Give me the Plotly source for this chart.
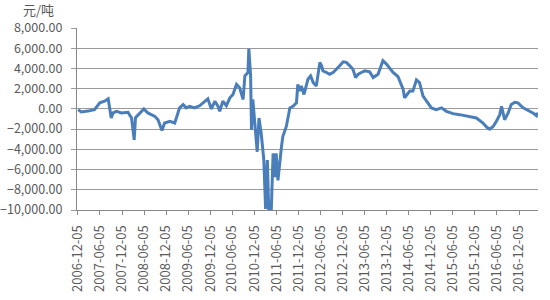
import pandas as pd
import plotly.graph_objects as go

# time in decimal years, value in 元/吨
years = [2006.93, 2007.00, 2007.15, 2007.30, 2007.42, 2007.53, 2007.61, 2007.63, 2007.68, 2007.72,
         2007.80, 2007.91, 2008.06, 2008.14, 2008.20, 2008.23, 2008.30, 2008.36, 2008.42, 2008.51,
         2008.67, 2008.74, 2008.83, 2008.89, 2009.01, 2009.12, 2009.23, 2009.31, 2009.38, 2009.46,
         2009.57, 2009.69, 2009.80, 2009.87, 2009.95, 2010.03, 2010.10, 2010.14, 2010.21, 2010.29,
         2010.37, 2010.44, 2010.52, 2010.59, 2010.67, 2010.71, 2010.78, 2010.80, 2010.84, 2010.86,
         2010.89, 2010.93, 2010.99, 2011.03, 2011.08, 2011.14, 2011.18, 2011.22, 2011.25, 2011.31,
         2011.35, 2011.39, 2011.42, 2011.46, 2011.50, 2011.54, 2011.57, 2011.65, 2011.73, 2011.80,
         2011.88, 2011.91, 2011.95, 2011.99, 2012.05, 2012.14, 2012.20, 2012.26, 2012.33, 2012.38,
         2012.41, 2012.45, 2012.48, 2012.56, 2012.63, 2012.71, 2012.79, 2012.86, 2012.94, 2013.01,
         2013.09, 2013.16, 2013.22, 2013.28, 2013.35, 2013.43, 2013.54, 2013.62, 2013.73, 2013.84,
         2013.92, 2014.07, 2014.18, 2014.30, 2014.33, 2014.45, 2014.52, 2014.60, 2014.67, 2014.75,
         2014.83, 2014.94, 2015.05, 2015.17, 2015.28, 2015.43, 2015.58, 2015.81, 2015.96, 2016.11,
         2016.19, 2016.26, 2016.34, 2016.41, 2016.49, 2016.53, 2016.56, 2016.60, 2016.68, 2016.75,
         2016.83, 2016.90, 2017.02, 2017.13, 2017.24, 2017.32, 2017.34]

values = [-70, -300, -220, -70, 600, 760, 1000, 430, -900, -400,
          -240, -400, -340, -900, -3070, -870, -570, -240, 0, -400,
          -740, -1070, -2140, -1400, -1240, -1400, 100, 430, 100, 260,
          100, 330, 760, 1000, 0, 760, 260, -240, 760, 330,
          1100, 1430, 2430, 2100, 930, 3260, 3600, 5930, 3260, -2070,
          930, -1400, -4240, -900, -2400, -5070, -9900, -5070, -9900, -9870,
          -4400, -6740, -4400, -7070, -5070, -3740, -2740, -1740, 100, 260,
          600, 2430, 1760, 2260, 1430, 2930, 3260, 2600, 2260, 3930,
          4600, 4260, 3760, 3600, 3430, 3600, 3930, 4260, 4660, 4600,
          4260, 3930, 3100, 3430, 3600, 3760, 3660, 3100, 3430, 4760,
          4430, 3600, 3200, 1930, 1100, 1760, 1760, 2860, 2600, 1260,
          760, 100, -70, 100, -240, -470, -570, -740, -900, -1400,
          -1800, -2000, -1740, -1240, -570, 260, -400, -1070, -400, 430,
          660, 600, 100, -140, -400, -670, -370]

tick_labels = ["2006-12-05", "2007-06-05", "2007-12-05", "2008-06-05", "2008-12-05",
               "2009-06-05", "2009-12-05", "2010-06-05", "2010-12-05", "2011-06-05",
               "2011-12-05", "2012-06-05", "2012-12-05", "2013-06-05", "2013-12-05",
               "2014-06-05", "2014-12-05", "2015-06-05", "2015-12-05", "2016-06-05",
               "2016-12-05"]

dates = [pd.Timestamp("2006-01-01") + pd.to_timedelta((y - 2006) * 365.25, unit="D") for y in years]

fig = go.Figure()
fig.add_trace(go.Scatter(x=dates, y=values, mode="lines",
                         line=dict(color="#4a7ebb", width=3), showlegend=False))

font_family = "Noto Sans CJK SC, Noto Sans, sans-serif"
fig.update_layout(
    width=550, height=300,
    margin=dict(l=77, r=12, t=28, b=90),
    paper_bgcolor="white", plot_bgcolor="white",
    font=dict(family=font_family, size=12, color="#595959"),
    xaxis=dict(
        range=["2006-11-27", "2017-05-11"], automargin=False,
        tickmode="array", tickvals=tick_labels, ticktext=tick_labels,
        tickangle=-90, showgrid=False, showline=True, linecolor="#888888",
        ticks="outside", ticklen=4, tickcolor="#888888",
        ticklabelstandoff=5,
        tickfont=dict(size=13, color="#595959"),
    ),
    yaxis=dict(
        range=[-10000, 8000], dtick=2000, tickformat=",.2f", automargin=False,
        showgrid=True, gridcolor="#9a9a9a", gridwidth=1,
        showline=True, linecolor="#888888", zeroline=False,
        ticks="outside", ticklen=5, tickcolor="#9a9a9a",
        ticklabelstandoff=6,
        tickfont=dict(size=12.5, color="#595959"),
    ),
    annotations=[dict(text="元/吨", x=-0.122, y=1.1, xref="paper", yref="paper",
                      xanchor="left", yanchor="middle", showarrow=False,
                      font=dict(size=13, color="#595959"))],
)
fig.write_html("out.html")
